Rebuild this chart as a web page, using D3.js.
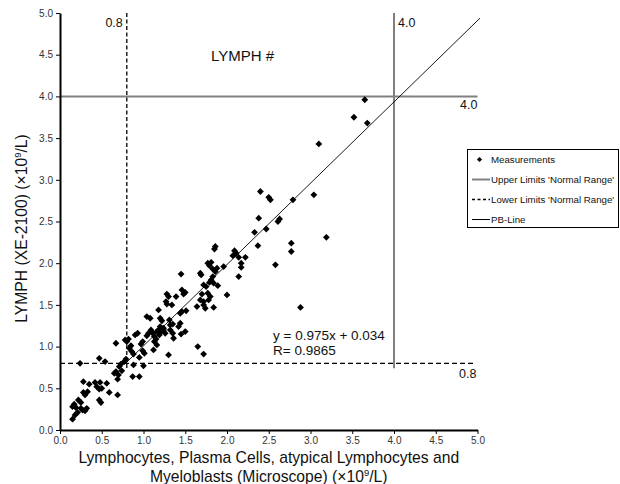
<!DOCTYPE html>
<html>
<head>
<meta charset="utf-8">
<script src="https://cdn.jsdelivr.net/npm/d3@7"></script>
<style>
  body { margin: 0; background: #fff; }
  svg { display: block; font-family: "Liberation Sans", Arial, sans-serif; }
</style>
</head>
<body>
<svg id="chart" width="620" height="484"></svg>
<script>
// Lymphocyte counts: microscope differential (x) vs. XE-2100 analyser (y), ×10^9/L
const microscope = [
  0.15,0.18,0.21,0.15,0.17,0.19,0.22,0.25,0.25,0.27,0.30,0.32,0.28,0.30,0.33,0.28,0.35,0.42,0.48,0.44,
  0.47,0.50,0.56,0.59,0.69,0.47,0.49,0.24,0.47,0.54,0.65,0.67,0.70,0.69,0.74,0.71,0.73,0.77,0.79,0.87,
  0.95,0.88,1.00,0.95,0.67,0.78,0.80,0.82,0.85,0.83,0.86,0.88,0.90,0.93,0.97,0.99,0.99,1.01,1.04,1.06,
  1.09,1.11,1.13,1.15,1.13,1.16,1.16,1.18,1.19,1.12,1.21,1.24,1.26,1.20,1.24,1.32,1.35,1.36,1.45,1.50,
  1.30,1.65,1.72,1.04,1.08,1.18,1.20,1.22,1.31,1.32,1.35,1.42,1.44,1.44,1.46,1.51,1.27,1.28,1.34,1.28,
  1.30,1.39,1.46,1.50,1.48,1.45,1.64,1.72,1.74,1.84,1.68,1.72,1.78,1.80,1.70,1.77,2.00,1.72,1.75,1.89,
  1.81,1.79,1.84,1.83,1.68,1.69,1.77,1.79,1.81,1.83,1.88,1.86,1.96,1.86,1.85,2.09,2.11,2.07,2.14,2.22,
  2.17,2.17,2.14,2.58,2.88,2.33,2.37,2.47,2.38,2.40,2.50,2.52,2.61,2.63,2.79,2.77,2.77,3.04,3.19,3.10,
  3.52,3.65,3.68
];
const xe2100 = [
  0.13,0.18,0.21,0.28,0.31,0.27,0.36,0.33,0.26,0.24,0.23,0.26,0.45,0.42,0.46,0.58,0.55,0.57,0.57,0.52,
  0.49,0.50,0.56,0.45,0.42,0.36,0.33,0.80,0.86,0.82,0.68,0.70,0.66,0.61,0.71,0.76,0.79,0.82,0.85,0.64,
  0.64,0.78,0.77,0.87,1.04,1.08,1.06,1.09,1.01,0.98,0.94,0.91,1.14,1.16,1.03,1.06,0.95,0.92,1.13,1.16,
  1.20,1.16,1.12,1.09,1.06,1.02,1.18,1.20,1.14,0.96,1.18,1.20,1.16,1.24,1.22,1.20,1.16,1.10,1.15,1.18,
  0.90,1.00,0.91,1.36,1.34,1.44,1.34,1.31,1.32,1.26,1.27,1.24,1.28,1.40,1.42,1.43,1.54,1.51,1.50,1.63,
  1.60,1.60,1.68,1.65,1.63,1.87,1.48,1.50,1.46,1.47,1.56,1.54,1.56,1.60,1.63,1.64,1.62,1.74,1.72,1.73,
  1.80,1.77,1.76,1.84,1.88,1.86,2.00,1.97,2.01,1.93,1.94,1.90,1.96,2.20,2.17,2.15,2.12,2.09,2.07,2.07,
  2.00,1.95,1.84,1.98,1.47,2.37,2.21,2.41,2.54,2.86,2.79,2.76,2.50,2.53,2.76,2.24,2.14,2.82,2.31,3.43,
  3.75,3.96,3.68
];

const axisTicks = [0, 0.5, 1, 1.5, 2, 2.5, 3, 3.5, 4, 4.5, 5];
const upperLimit = 4.0;
const lowerLimit = 0.8;
const pbSlope = 0.975, pbIntercept = 0.034, pbR = 0.9865;
const pbRange = [0.78, 5.03];
const legendLabels = ["Measurements", "Upper Limits 'Normal Range'", "Lower Limits 'Normal Range'", "PB-Line"];

const svg = d3.select("#chart");
const x = d3.scaleLinear().domain([0, 5]).range([60, 477.5]);
const y = d3.scaleLinear().domain([0, 5]).range([430, 13]);
const fmt = d3.format(".1f");
const limitBottom = 0.74;   // reference lines stop just under the lower limit

const diamond = (cx, cy, r) => `M${cx},${cy - r}L${cx + r},${cy}L${cx},${cy + r}L${cx - r},${cy}Z`;

// reference limit lines
const grey = "#808080";
svg.append("line")
  .attr("x1", x(0)).attr("x2", x(5)).attr("y1", y(upperLimit)).attr("y2", y(upperLimit))
  .attr("stroke", grey).attr("stroke-width", 2);
svg.append("line")
  .attr("x1", x(upperLimit)).attr("x2", x(upperLimit)).attr("y1", y(5)).attr("y2", y(limitBottom))
  .attr("stroke", grey).attr("stroke-width", 2);
svg.append("line")
  .attr("x1", x(0)).attr("x2", x(4.97)).attr("y1", y(lowerLimit)).attr("y2", y(lowerLimit))
  .attr("stroke", "#000").attr("stroke-width", 1.3).attr("stroke-dasharray", "5,3");
svg.append("line")
  .attr("x1", x(lowerLimit)).attr("x2", x(lowerLimit)).attr("y1", y(5)).attr("y2", y(limitBottom))
  .attr("stroke", "#000").attr("stroke-width", 1.3).attr("stroke-dasharray", "4,2.5");

// limit labels
const limLabel = (tx, ty, anchor, txt) => svg.append("text")
  .attr("x", tx).attr("y", ty).attr("text-anchor", anchor)
  .attr("font-size", 12.5).attr("fill", "#111").text(txt);
limLabel(x(lowerLimit) - 4, y(5) + 14, "end", fmt(lowerLimit));
limLabel(x(upperLimit) + 4, y(5) + 14, "start", fmt(upperLimit));
limLabel(x(5), y(upperLimit) + 13, "end", fmt(upperLimit));
limLabel(x(5) - 1, y(lowerLimit) + 15, "end", fmt(lowerLimit));

// Passing-Bablok regression line
svg.append("path")
  .datum(pbRange.map(v => [v, pbSlope * v + pbIntercept]))
  .attr("d", d3.line().x(d => x(d[0])).y(d => y(d[1])))
  .attr("fill", "none").attr("stroke", "#000").attr("stroke-width", 0.9);

// measurements
svg.append("g").selectAll("path")
  .data(microscope.map((v, i) => [v, xe2100[i]]))
  .join("path")
  .attr("d", d => diamond(x(d[0]), y(d[1]), 3.4))
  .attr("fill", "#000");

// axes
const yAxis = svg.append("g").attr("transform", `translate(${x(0)},0)`)
  .call(d3.axisLeft(y).tickValues(axisTicks).tickFormat(fmt).tickSize(4).tickSizeOuter(0).tickPadding(3));
const xAxis = svg.append("g").attr("transform", `translate(0,${y(0)})`)
  .call(d3.axisBottom(x).tickValues(axisTicks).tickFormat(fmt).tickSize(4).tickSizeOuter(0).tickPadding(3));
[yAxis, xAxis].forEach(a => {
  a.select(".domain").attr("stroke", "#000").attr("stroke-width", 2);
  a.selectAll(".tick line").attr("stroke", "#000").attr("stroke-width", 1);
  a.selectAll(".tick text").attr("font-size", 10).attr("fill", "#333")
    .attr("font-family", "'Liberation Sans', Arial, sans-serif");
});

// titles
svg.append("text").attr("x", 211).attr("y", 61).attr("font-size", 15).attr("fill", "#111").text("LYMPH #");

const titleSize = 15.7;
const yTitle = svg.append("text")
  .attr("transform", "translate(26.5,228.5) rotate(-90)")
  .attr("text-anchor", "middle").attr("font-size", titleSize).attr("fill", "#111");
yTitle.append("tspan").text("LYMPH (XE-2100) (\u00d710");
yTitle.append("tspan").attr("font-size", 9.5).attr("dy", -6).text("9");
yTitle.append("tspan").attr("dy", 6).text("/L)");

const xMid = (x(0) + x(5)) / 2;
svg.append("text").attr("x", xMid).attr("y", 462.5).attr("text-anchor", "middle")
  .attr("font-size", titleSize).attr("fill", "#111")
  .text("Lymphocytes, Plasma Cells, atypical Lymphocytes and");
const xTitle2 = svg.append("text").attr("x", xMid).attr("y", 481.5).attr("text-anchor", "middle")
  .attr("font-size", titleSize).attr("fill", "#111");
xTitle2.append("tspan").text("Myeloblasts (Microscope) (\u00d710");
xTitle2.append("tspan").attr("font-size", 9.5).attr("dy", -6).text("9");
xTitle2.append("tspan").attr("dy", 6).text("/L)");

// regression statistics
const stats = svg.append("g").attr("font-size", 13.5).attr("fill", "#111");
stats.append("text").attr("x", 273).attr("y", 340)
  .text(`y = ${pbSlope}x + ${pbIntercept}`);
stats.append("text").attr("x", 273).attr("y", 355)
  .text(`R= ${pbR}`);

// legend
const legend = svg.append("g");
legend.append("rect").attr("x", 467.5).attr("y", 149.5).attr("width", 151).attr("height", 78)
  .attr("fill", "#fff").attr("stroke", "#000").attr("stroke-width", 1);
const rowY = i => 159.5 + i * 20;
legend.append("path").attr("d", diamond(479.5, rowY(0), 2.6)).attr("fill", "#000");
legend.append("line").attr("x1", 472).attr("x2", 490).attr("y1", rowY(1)).attr("y2", rowY(1))
  .attr("stroke", grey).attr("stroke-width", 2);
legend.append("line").attr("x1", 472).attr("x2", 490).attr("y1", rowY(2)).attr("y2", rowY(2))
  .attr("stroke", "#000").attr("stroke-width", 1.3).attr("stroke-dasharray", "3,2.5");
legend.append("line").attr("x1", 472).attr("x2", 490).attr("y1", rowY(3)).attr("y2", rowY(3))
  .attr("stroke", "#000").attr("stroke-width", 1);
legend.selectAll("text.lab").data(legendLabels).join("text")
  .attr("class", "lab")
  .attr("x", 491).attr("y", (d, i) => rowY(i)).attr("dy", "0.35em")
  .attr("font-size", 9.7).attr("fill", "#111").text(d => d);
</script>
</body>
</html>
